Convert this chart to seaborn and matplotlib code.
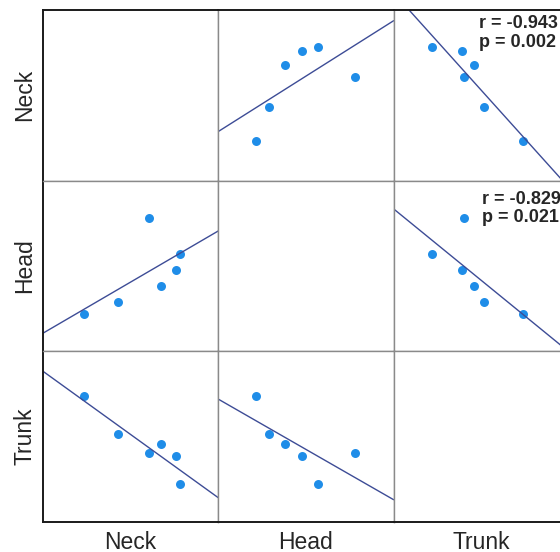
import numpy as np
import pandas as pd
import matplotlib
matplotlib.use("Agg")
import matplotlib.pyplot as plt
import seaborn as sns

# ==========================================================
# DATA
# ==========================================================

variables = ["Neck", "Head", "Trunk"]

neck = [23.5, 43.0, 67.5, 60.5, 76.2, 78.1]
head = [21.8, 29.0, 38.2, 77.9, 47.7, 57.0]
trunk = [73.8, 51.4, 45.8, 40.3, 38.9, 22.0]

# annotated panels (row variable, column variable)
annot_rows = ["Neck", "Head"]
annot_cols = ["Trunk", "Trunk"]
annot_r = [-0.943, -0.829]
annot_p = [0.002, 0.021]

df = pd.DataFrame({"Neck": neck, "Head": head, "Trunk": trunk})

# ==========================================================
# STYLE
# ==========================================================

sns.set_style("white")
plt.rcParams["font.family"] = ["Liberation Sans", "DejaVu Sans"]

W, H = 560, 552
col_left = [42.5, 218.0, 393.7]
row_top = [10.0, 180.5, 351.3]
cell_w, cell_h = 175.6, 170.7

dot_color = "#1f8de8"
line_color = "#3d4c96"
outer_color = "#1a1a1a"
inner_color = "#8a8a8a"

# ==========================================================
# PAIR GRID
# ==========================================================

g = sns.PairGrid(df, vars=variables, height=1.84, despine=False)
g.figure.set_size_inches(W / 100, H / 100)

for ax in g.axes.flat:
    ax.set_xlim(0, 100)
    ax.set_ylim(0, 100)

g.map_offdiag(
    sns.regplot,
    ci=None,
    truncate=False,
    scatter_kws=dict(s=42, color=dot_color, alpha=1, linewidths=0),
    line_kws=dict(color=line_color, lw=1.0),
)

for i in range(3):
    for j in range(3):
        ax = g.axes[i, j]
        ax.set_position([
            col_left[j] / W,
            1 - (row_top[i] + cell_h) / H,
            cell_w / W,
            cell_h / H,
        ])
        ax.set_xlim(0, 100)
        ax.set_ylim(0, 100)
        ax.set_xticks([])
        ax.set_yticks([])
        for side in ["left", "right", "top", "bottom"]:
            ax.spines[side].set_visible(True)
            ax.spines[side].set_color(inner_color)
            ax.spines[side].set_linewidth(1.0)
        if j == 0:
            ax.spines["left"].set_color(outer_color)
            ax.spines["left"].set_linewidth(1.4)
        if i == 0:
            ax.spines["top"].set_color(outer_color)
            ax.spines["top"].set_linewidth(1.4)
        if i == 2:
            ax.spines["bottom"].set_color(outer_color)
            ax.spines["bottom"].set_linewidth(1.4)
        ax.set_xlabel("")
        ax.set_ylabel("")

# axis labels
for k, name in enumerate(variables):
    ax = g.axes[k, 0]
    ax.set_ylabel(name, fontsize=16.5)
    ax.yaxis.set_label_coords(-0.035, 0.5)
    ax = g.axes[2, k]
    ax.set_xlabel(name, fontsize=16.5)
    ax.xaxis.set_label_coords(0.5, -0.05)

# correlation text
text_x = [0.486, 0.501]
text_y = [0.918, 0.89]
for k in range(len(annot_r)):
    ax = g.axes[variables.index(annot_rows[k]), variables.index(annot_cols[k])]
    ax.text(text_x[k], text_y[k], f"r = {annot_r[k]:.3f}", transform=ax.transAxes,
            ha="left", va="center", fontsize=13, fontweight="bold")
    ax.text(text_x[k], text_y[k] - 0.108, f"p = {annot_p[k]:.3f}", transform=ax.transAxes,
            ha="left", va="center", fontsize=13, fontweight="bold")

g.figure.savefig("out.png", dpi=100)
plt.close()
